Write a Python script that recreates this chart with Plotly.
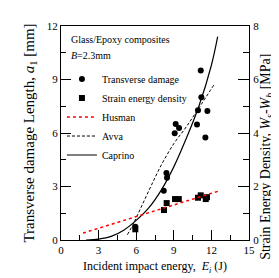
import plotly.graph_objects as go

# Transverse damage (left axis, mm)
E_td = [5.93, 8.20, 8.41, 8.46, 9.07, 9.15, 9.42, 10.85, 10.93, 11.20, 11.15, 11.52, 11.68]
a_td = [0.74, 2.76, 3.76, 3.49, 5.99, 6.50, 6.28, 6.47, 7.27, 8.00, 9.50, 5.75, 7.23]

# Strain energy density (right axis, MPa)
E_sed = [5.93, 8.22, 8.43, 9.10, 9.40, 10.93, 11.15, 11.55, 11.65]
W_sed = [0.40, 1.12, 1.38, 1.53, 1.53, 1.58, 1.67, 1.53, 1.60]

# Model curves
E_husman = [1.76, 12.66]
W_husman = [0.26, 1.84]

E_avva = [5.30, 5.80, 6.50, 7.20, 8.00, 9.00, 10.00, 11.00, 12.20]
a_avva = [0.30, 0.95, 2.00, 3.05, 4.20, 5.40, 6.35, 7.40, 8.70]

E_caprino = [2.00, 3.00, 4.00, 5.00, 6.00, 7.00, 8.00, 9.00, 10.00, 11.00, 12.00, 12.50]
a_caprino = [0.00, 0.05, 0.20, 0.55, 1.10, 1.80, 2.80, 4.10, 5.70, 7.50, 9.80, 11.40]

x_ticks = [0, 3, 6, 9, 12, 15]
y_ticks = [0, 3, 6, 9, 12]
y2_ticks = [0, 2, 4, 6, 8]

FONT = "Liberation Serif"

fig = go.Figure()
fig.add_trace(go.Scatter(x=E_td, y=a_td, mode="markers", name="Transverse damage",
                         marker=dict(symbol="circle", size=6, color="black")))
fig.add_trace(go.Scatter(x=E_sed, y=W_sed, mode="markers", name="Strain energy density",
                         marker=dict(symbol="square", size=6, color="black"), yaxis="y2"))
fig.add_trace(go.Scatter(x=E_husman, y=W_husman, mode="lines", name="Husman",
                         line=dict(color="red", dash="dot", width=1.5), yaxis="y2"))
fig.add_trace(go.Scatter(x=E_avva, y=a_avva, mode="lines", name="Avva",
                         line=dict(color="black", dash="3px,2px", width=1), line_shape="spline"))
fig.add_trace(go.Scatter(x=E_caprino, y=a_caprino, mode="lines", name="Caprino",
                         line=dict(color="black", width=1.2), line_shape="spline"))

axis_common = dict(showline=True, linecolor="black", linewidth=1, ticks="inside",
                   tickcolor="black", showgrid=False, zeroline=False,
                   tickfont=dict(family=FONT, size=11, color="black"))

fig.update_layout(
    width=279, height=278,
    margin=dict(l=53, r=38, t=13, b=46),
    paper_bgcolor="white", plot_bgcolor="white",
    font=dict(family=FONT, color="black"),
    showlegend=True,
    legend=dict(x=0.005, y=0.82, xanchor="left", yanchor="top", bgcolor="rgba(0,0,0,0)",
                font=dict(family=FONT, size=10, color="black"), itemwidth=30,
                tracegroupgap=0),
    xaxis=dict(range=[0, 15], tickvals=x_ticks, ticklen=10, mirror=True,
               minor=dict(dtick=1.5, ticklen=5, ticks="inside", tickcolor="black"),
               title=dict(text="Incident impact energy,  <i>E</i><sub><i>i</i></sub> (J)",
                          font=dict(family=FONT, size=12), standoff=6),
               **axis_common),
    yaxis=dict(range=[0, 12], tickvals=y_ticks, ticklen=10,
               minor=dict(dtick=1.5, ticklen=5, ticks="inside", tickcolor="black"),
               title=dict(text="Transverse damage Length, <i>a</i><sub>1</sub> [mm]",
                          font=dict(family=FONT, size=15), standoff=8),
               **axis_common),
    yaxis2=dict(range=[0, 8], tickvals=y2_ticks, ticklen=11, overlaying="y", side="right",
                ticklabelstandoff=1,
                minor=dict(dtick=1, ticklen=6, ticks="inside", tickcolor="black"),
                **axis_common),
    annotations=[
        dict(text="Glass/Epoxy composites", x=0.04, y=0.935, xref="paper", yref="paper",
             xanchor="left", yanchor="middle", showarrow=False,
             font=dict(family=FONT, size=10, color="black")),
        dict(text="<i>B</i>=2.3mm", x=0.04, y=0.86, xref="paper", yref="paper",
             xanchor="left", yanchor="middle", showarrow=False,
             font=dict(family=FONT, size=10, color="black")),
        dict(text="Strain Energy Density, <i>W</i><sub><i>s</i></sub>-<i>W</i><sub><i>b</i></sub> [MPa]",
             x=1.092, y=0.39, xref="paper", yref="paper", textangle=-90,
             xanchor="center", yanchor="middle", showarrow=False,
             font=dict(family=FONT, size=14, color="black")),
    ],
)

fig.write_html("out.html")
